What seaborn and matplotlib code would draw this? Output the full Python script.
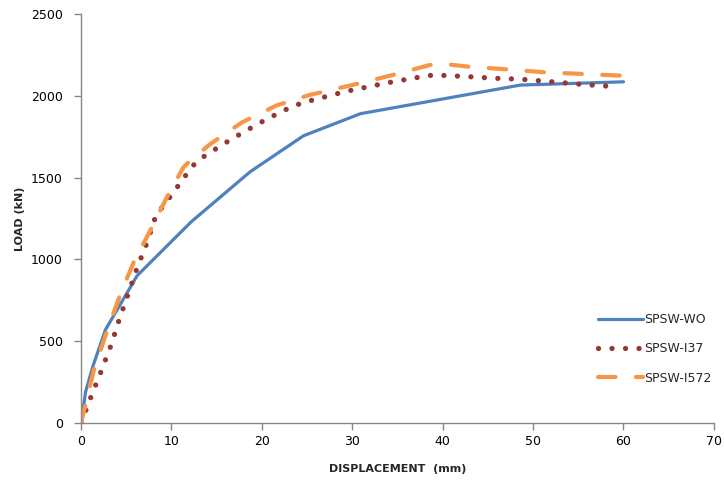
import pandas as pd
import seaborn as sns
import matplotlib.pyplot as plt

# SPSW-WO
wo_disp = [0, 0.5, 1.3, 2.7, 6.2, 12.2, 18.7, 24.6, 30.9, 48.6, 60.0]
wo_load = [0, 190, 345, 570, 900, 1230, 1535, 1755, 1890, 2065, 2085]

# SPSW-I37
i37_disp = [0, 1.1, 2.2, 3.3, 4.24, 5.24, 6.23, 7.34, 8.26, 10.1, 11.87, 12.8, 15.4,
            17.95, 20.5, 23.3, 24.7, 29.2, 33.6, 36.7, 39.0, 42.7, 45.6, 48.6, 51.7,
            54.8, 57.8, 59.4]
i37_load = [0, 160, 313, 473, 635, 793, 952, 1108, 1265, 1400, 1536, 1600, 1693,
            1777, 1856, 1933, 1960, 2025, 2076, 2107, 2127, 2117, 2107, 2101, 2087,
            2072, 2060, 2056]

# SPSW-I572
i572_disp = [0, 1.4, 2.8, 4.3, 5.8, 7.6, 9.5, 11.3, 12.0, 14.3, 17.8, 21.6, 25.3,
             30.5, 34.5, 38.6, 40.0, 42.8, 47.1, 51.3, 55.5, 59.6]
i572_load = [0, 320, 550, 780, 980, 1170, 1380, 1560, 1600, 1705, 1837, 1940, 2005,
             2072, 2127, 2188, 2195, 2178, 2161, 2143, 2133, 2123]

labels = ["SPSW-WO", "SPSW-I37", "SPSW-I572"]
x_ticks = [0, 10, 20, 30, 40, 50, 60, 70]
y_ticks = [0, 500, 1000, 1500, 2000, 2500]


def main():
    sns.set_style("ticks")
    plt.rcParams['font.family'] = ['DejaVu Sans']

    fig = plt.figure(figsize=(7.24, 4.8), dpi=100)
    ax = fig.add_axes([0.112, 0.119, 0.874, 0.852])

    sns.lineplot(x=wo_disp, y=wo_load, ax=ax, color="#4F81BD", linewidth=2.3,
                 label=labels[0], sort=False)
    # 圆点虚线
    sns.lineplot(x=i37_disp, y=i37_load, ax=ax, color="#953735", linewidth=3.8,
                 linestyle=(0, (0.01, 2.55)), dash_capstyle="round",
                 label=labels[1], sort=False)
    # 长虚线
    sns.lineplot(x=i572_disp, y=i572_load, ax=ax, color="#F79646", linewidth=3.0,
                 linestyle=(0, (4.2, 4.9)), dash_capstyle="round",
                 label=labels[2], sort=False)

    ax.set_xlim(0, 70)
    ax.set_ylim(0, 2500)
    ax.set_xticks(x_ticks)
    ax.set_yticks(y_ticks)
    ax.tick_params(axis="both", colors="#868686", labelcolor="black",
                   labelsize=9, length=5, width=1, direction="out")
    ax.tick_params(axis="y", pad=8)
    for side in ["top", "right"]:
        ax.spines[side].set_visible(False)
    for side in ["left", "bottom"]:
        ax.spines[side].set_color("#868686")
        ax.spines[side].set_linewidth(1)

    ax.set_xlabel("DISPLACEMENT  (mm)", fontsize=8, fontweight="bold", labelpad=12)
    ax.set_ylabel("LOAD (kN)", fontsize=8, fontweight="bold")
    ax.yaxis.set_label_coords(-0.088, 0.5)

    ax.legend(loc="center left", bbox_to_anchor=(0.81, 0.273),
              bbox_transform=fig.transFigure, frameon=False, fontsize=9,
              handlelength=3.6, handletextpad=0.1, labelspacing=1.3)

    fig.savefig("out.png", dpi=100)


if __name__ == '__main__':
    main()
